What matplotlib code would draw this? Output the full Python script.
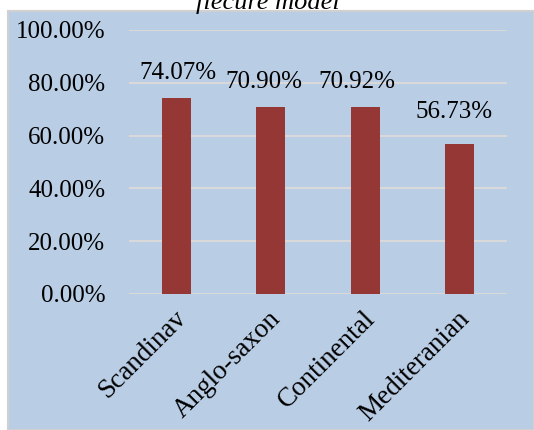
import matplotlib.pyplot as plt
from matplotlib.patches import Rectangle
from matplotlib.ticker import FuncFormatter
import matplotlib.transforms as mtransforms

# data
categories = ['Scandinav', 'Anglo-saxon', 'Continental', 'Mediteranian']
values = [74.07, 70.90, 70.92, 56.73]
label_texts = ['74.07%', '70.90%', '70.92%', '56.73%']
yticks = [0, 20, 40, 60, 80, 100]

# label nudges (points) as placed in the original
label_dx = [1, -5, -6, -4]
label_dy = [18, 18, 18, 23]

plt.rcParams['font.family'] = ['Liberation Serif', 'DejaVu Serif']

bg = '#B9CDE5'
bar_color = '#953735'

fig = plt.figure(figsize=(5.34, 4.30), dpi=100, facecolor='white')

# chart area background with a thin border (drawn behind the axes)
fig.patches.append(Rectangle((8 / 534, 0), 1 - 8 / 534, 1 - 11 / 430,
                             transform=fig.transFigure, facecolor=bg,
                             edgecolor='#D0D0D0', linewidth=1.5, zorder=-10))

# clipped title above the chart area
fig.text(268 / 534, 1 - 9 / 430, 'flecure model', ha='center', va='baseline',
         fontsize=19, style='italic')

ax = fig.add_axes([129 / 534, 136 / 430, 378 / 534, 264 / 430])
ax.set_facecolor('none')

x = range(len(categories))
ax.bar(x, values, width=0.31, color=bar_color, zorder=3)

for i, v in enumerate(values):
    ax.annotate(label_texts[i], (i, v), xytext=(label_dx[i], label_dy[i]),
                textcoords='offset points', ha='center', va='center', fontsize=18)

ax.set_xlim(-0.5, len(categories) - 0.5)
ax.set_ylim(0, 100)
ax.set_yticks(yticks)
ax.yaxis.set_major_formatter(FuncFormatter(lambda v, p: f'{v:.2f}%'))
ax.grid(axis='y', color='#D9D9D9', linewidth=1.5, zorder=1)
ax.set_axisbelow(True)

ax.set_xticks(list(x))
ax.set_xticklabels(categories, rotation=45, ha='right', va='center',
                   rotation_mode='anchor')
ax.tick_params(axis='y', length=0, pad=17, labelsize=18)
ax.tick_params(axis='x', length=0, pad=15, labelsize=19.5)

# nudge the rotated category labels to the right, as in the original
shift = mtransforms.ScaledTranslation(6 / 100, 0, fig.dpi_scale_trans)
for lbl in ax.get_xticklabels():
    lbl.set_transform(lbl.get_transform() + shift)

for s in ax.spines.values():
    s.set_visible(False)

fig.savefig('out.png', dpi=100, facecolor=fig.get_facecolor())
